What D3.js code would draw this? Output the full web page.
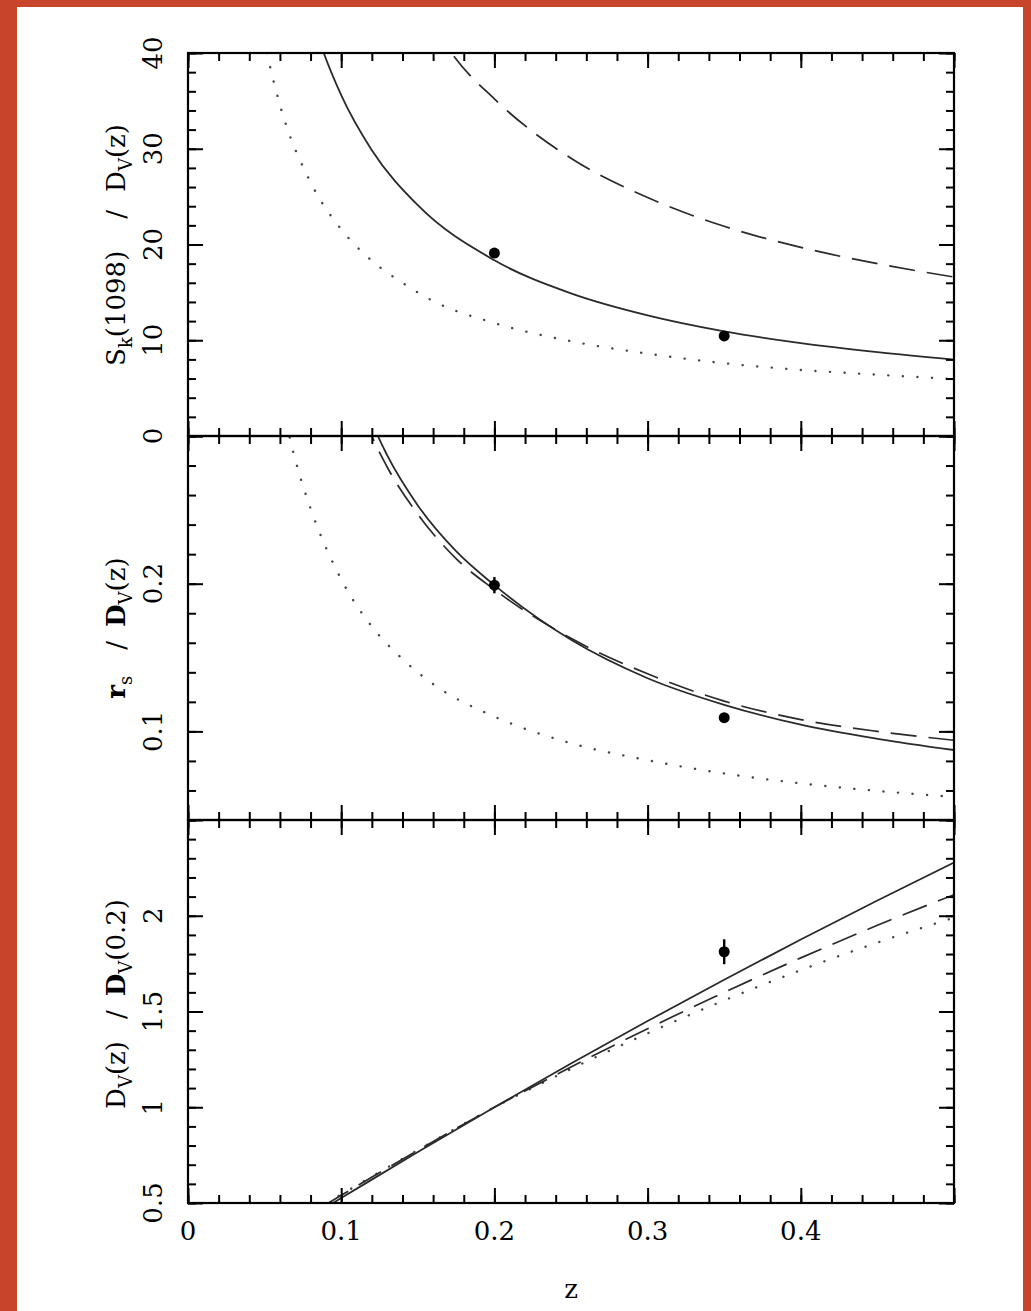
<!DOCTYPE html>
<html><head><meta charset="utf-8">
<script src="https://cdn.jsdelivr.net/npm/d3@7"></script>
<style>html,body{margin:0;padding:0;background:#c8452c;}svg{display:block;}</style>
</head><body>
<script>
// ---------- data ----------
const xTicksMajor = [0, 0.1, 0.2, 0.3, 0.4, 0.5];
const xTickLabels = ["0", "0.1", "0.2", "0.3", "0.4"];

// Panel 1: S_k(1098)/D_V(z)
const skSolid  = [[0.08,44.2],[0.0875,40.5],[0.1,35.6],[0.12,29.85],[0.15,24.1],[0.2,18.35],[0.25,14.9],[0.3,12.6],[0.35,10.93],[0.4,9.7],[0.45,8.76],[0.5,7.98]];
const skDashed = [[0.16,43],[0.172,40],[0.2,35.2],[0.25,29],[0.3,24.9],[0.35,21.9],[0.4,19.7],[0.45,18.0],[0.5,16.6]];
const skDotted = [[0.048,43],[0.0516,40],[0.06,34.6],[0.08,26.5],[0.1,21.6],[0.12,18.3],[0.14,16.0],[0.16,14.1],[0.2,11.8],[0.25,9.9],[0.3,8.6],[0.35,7.6],[0.4,6.9],[0.45,6.4],[0.5,5.95]];
const skPoints = [[0.2,19.1,0],[0.35,10.45,0]];
const skTicks = [0,10,20,30,40];

// Panel 2: r_s/D_V(z)
const rsSolid  = [[0.115,0.326],[0.124,0.3],[0.13,0.287],[0.15,0.253],[0.175,0.222],[0.2,0.199],[0.25,0.162],[0.3,0.136],[0.35,0.118],[0.4,0.1045],[0.45,0.095],[0.5,0.0874]];
const rsDashed = [[0.115,0.313],[0.12,0.3],[0.13,0.279],[0.15,0.247],[0.175,0.217],[0.2,0.196],[0.25,0.163],[0.3,0.139],[0.35,0.1205],[0.4,0.108],[0.45,0.1],[0.5,0.094]];
const rsDotted = [[0.06,0.328],[0.07,0.284],[0.08,0.251],[0.1,0.203],[0.12,0.171],[0.14,0.149],[0.16,0.132],[0.2,0.110],[0.25,0.092],[0.3,0.0805],[0.35,0.0715],[0.4,0.0648],[0.45,0.0597],[0.5,0.0556]];
const rsPoints = [[0.2,0.199,0.0055],[0.35,0.1093,0.002]];
const rsTicks = [0.1,0.2];

// Panel 3: D_V(z)/D_V(0.2)
const dvSolid  = [[0.09,0.478],[0.1,0.526],[0.15,0.766],[0.2,1.0],[0.25,1.228],[0.3,1.45],[0.35,1.666],[0.4,1.876],[0.45,2.08],[0.5,2.278]];
const dvDashed = [[0.09,0.492],[0.1,0.54],[0.15,0.775],[0.2,1.0],[0.25,1.21],[0.3,1.41],[0.35,1.6],[0.4,1.78],[0.45,1.95],[0.5,2.11]];
const dvDotted = [[0.09,0.499],[0.1,0.545],[0.15,0.777],[0.2,1.0],[0.25,1.2],[0.3,1.386],[0.35,1.558],[0.4,1.716],[0.45,1.86],[0.5,1.99]];
const dvPoints = [[0.35,1.812,0.065]];
const dvTicks = [0.5,1,1.5,2];

// ---------- layout ----------
const W = 1031, H = 1311;
const X0 = 188, X1 = 954;
const FONT = "'DejaVu Serif', serif";

const svg = d3.select("body").append("svg").attr("width", W).attr("height", H);
svg.append("rect").attr("x",0).attr("y",0).attr("width",W).attr("height",H).attr("fill","#c8452c");
svg.append("rect").attr("x",17).attr("y",7).attr("width",1006).attr("height",H).attr("fill","#fff");

const x = d3.scaleLinear().domain([0,0.5]).range([X0,X1]);

const panels = [
  {id:"p1", domain:[0,40], range:[436,53], solid:skSolid, dashed:skDashed, dotted:skDotted, points:skPoints,
   major:d3.range(0,40.001,10), minor:d3.range(0,40.001,2), ticks:skTicks},
  {id:"p2", domain:[0.04,0.3], range:[820,436], solid:rsSolid, dashed:rsDashed, dotted:rsDotted, points:rsPoints,
   major:[0.1,0.2,0.3], minor:d3.range(0.04,0.3001,0.02), ticks:rsTicks},
  {id:"p3", domain:[0.5,2.5], range:[1203,820], solid:dvSolid, dashed:dvDashed, dotted:dvDotted, points:dvPoints,
   major:[0.5,1,1.5,2,2.5], minor:d3.range(0.5,2.5001,0.1), ticks:dvTicks}
];

const xMinor = d3.range(0,0.5001,0.02);

panels.forEach(p => {
  const y = d3.scaleLinear().domain(p.domain).range(p.range);
  const top = p.range[1], bot = p.range[0];
  const g = svg.append("g");
  g.append("clipPath").attr("id","clip-"+p.id).append("rect")
    .attr("x",X0).attr("y",top).attr("width",X1-X0).attr("height",bot-top);

  const line = d3.line().x(d=>x(d[0])).y(d=>y(d[1])).curve(d3.curveMonotoneX);
  const cg = g.append("g").attr("clip-path","url(#clip-"+p.id+")");
  cg.append("path").datum(p.dotted).attr("d",line).attr("fill","none")
    .attr("stroke","#444").attr("stroke-width",2.4).attr("stroke-linecap","round").attr("stroke-dasharray","0.1,14.5");
  cg.append("path").datum(p.dashed).attr("d",line).attr("fill","none")
    .attr("stroke","#2a2a2a").attr("stroke-width",1.7).attr("stroke-dasharray","26,12");
  cg.append("path").datum(p.solid).attr("d",line).attr("fill","none")
    .attr("stroke","#2a2a2a").attr("stroke-width",1.8);

  cg.selectAll("line.err").data(p.points.filter(d=>d[2]>0)).enter().append("line")
    .attr("x1",d=>x(d[0])).attr("x2",d=>x(d[0]))
    .attr("y1",d=>y(d[1]-d[2])).attr("y2",d=>y(d[1]+d[2]))
    .attr("stroke","#000").attr("stroke-width",2.4);
  cg.selectAll("circle").data(p.points).enter().append("circle")
    .attr("cx",d=>x(d[0])).attr("cy",d=>y(d[1])).attr("r",5.5).attr("fill","#000");

  const tickStyle = sel => { sel.select(".domain").remove(); sel.selectAll("line").attr("stroke","#000").attr("stroke-width",2); };
  const mk = (axisFn, scale, vals, size, tx, ty) => {
    g.append("g").attr("transform",`translate(${tx},${ty})`)
      .call(axisFn(scale).tickValues(vals).tickSize(-size).tickFormat(""))
      .call(tickStyle);
  };
  mk(d3.axisLeft, y, p.major, 15, X0, 0);
  mk(d3.axisLeft, y, p.minor, 8, X0, 0);
  mk(d3.axisRight, y, p.major, 15, X1, 0);
  mk(d3.axisRight, y, p.minor, 8, X1, 0);
  mk(d3.axisTop, x, xTicksMajor, 15, 0, top);
  mk(d3.axisTop, x, xMinor, 8, 0, top);
  mk(d3.axisBottom, x, xTicksMajor, 15, 0, bot);
  mk(d3.axisBottom, x, xMinor, 8, 0, bot);

  g.append("rect").attr("x",X0).attr("y",top).attr("width",X1-X0).attr("height",bot-top)
    .attr("fill","none").attr("stroke","#000").attr("stroke-width",2.2);

  g.selectAll("text.yl").data(p.ticks).enter().append("text")
    .attr("transform",d=>`translate(162,${y(d)}) rotate(-90)`)
    .attr("text-anchor","middle").attr("font-family",FONT).attr("font-size",26).attr("fill","#000")
    .text(d=>String(d));
});

svg.selectAll("text.xl").data(xTickLabels).enter().append("text")
  .attr("x",(d,i)=>x(xTicksMajor[i])).attr("y",1240)
  .attr("text-anchor","middle").attr("font-family",FONT).attr("font-size",26).text(d=>d);

svg.append("text").attr("x",571).attr("y",1298).attr("text-anchor","middle")
  .attr("font-family",FONT).attr("font-size",26).text("z");

function title(cy, parts){
  const t = svg.append("text").attr("transform",`translate(125,${cy}) rotate(-90)`)
    .attr("text-anchor","middle").attr("font-family",FONT).attr("font-size",26).attr("fill","#000");
  parts.forEach(pt=>{
    const s = t.append("tspan").text(pt.t);
    if(pt.sub){ s.attr("font-size",18).attr("dy",7); }
    if(pt.up){ s.attr("dy",-7); }
    if(pt.bold){ s.attr("font-weight","bold"); }
    if(pt.dx){ s.attr("dx",pt.dx); }
  });
}
title(245,[{t:"S"},{t:"k",sub:true},{t:"(1098)",up:true},{t:"/",dx:32},{t:"D",dx:18},{t:"V",sub:true},{t:"(z)",up:true}]);
title(628,[{t:"r",bold:true},{t:"s",sub:true},{t:"/",dx:26,up:true},{t:"D",dx:14,bold:true},{t:"V",sub:true},{t:"(z)",up:true}]);
title(1004,[{t:"D"},{t:"V",sub:true},{t:"(z)",up:true},{t:"/",dx:22},{t:"D",dx:14,bold:true},{t:"V",sub:true},{t:"(0.2)",up:true}]);
</script>
</body></html>
